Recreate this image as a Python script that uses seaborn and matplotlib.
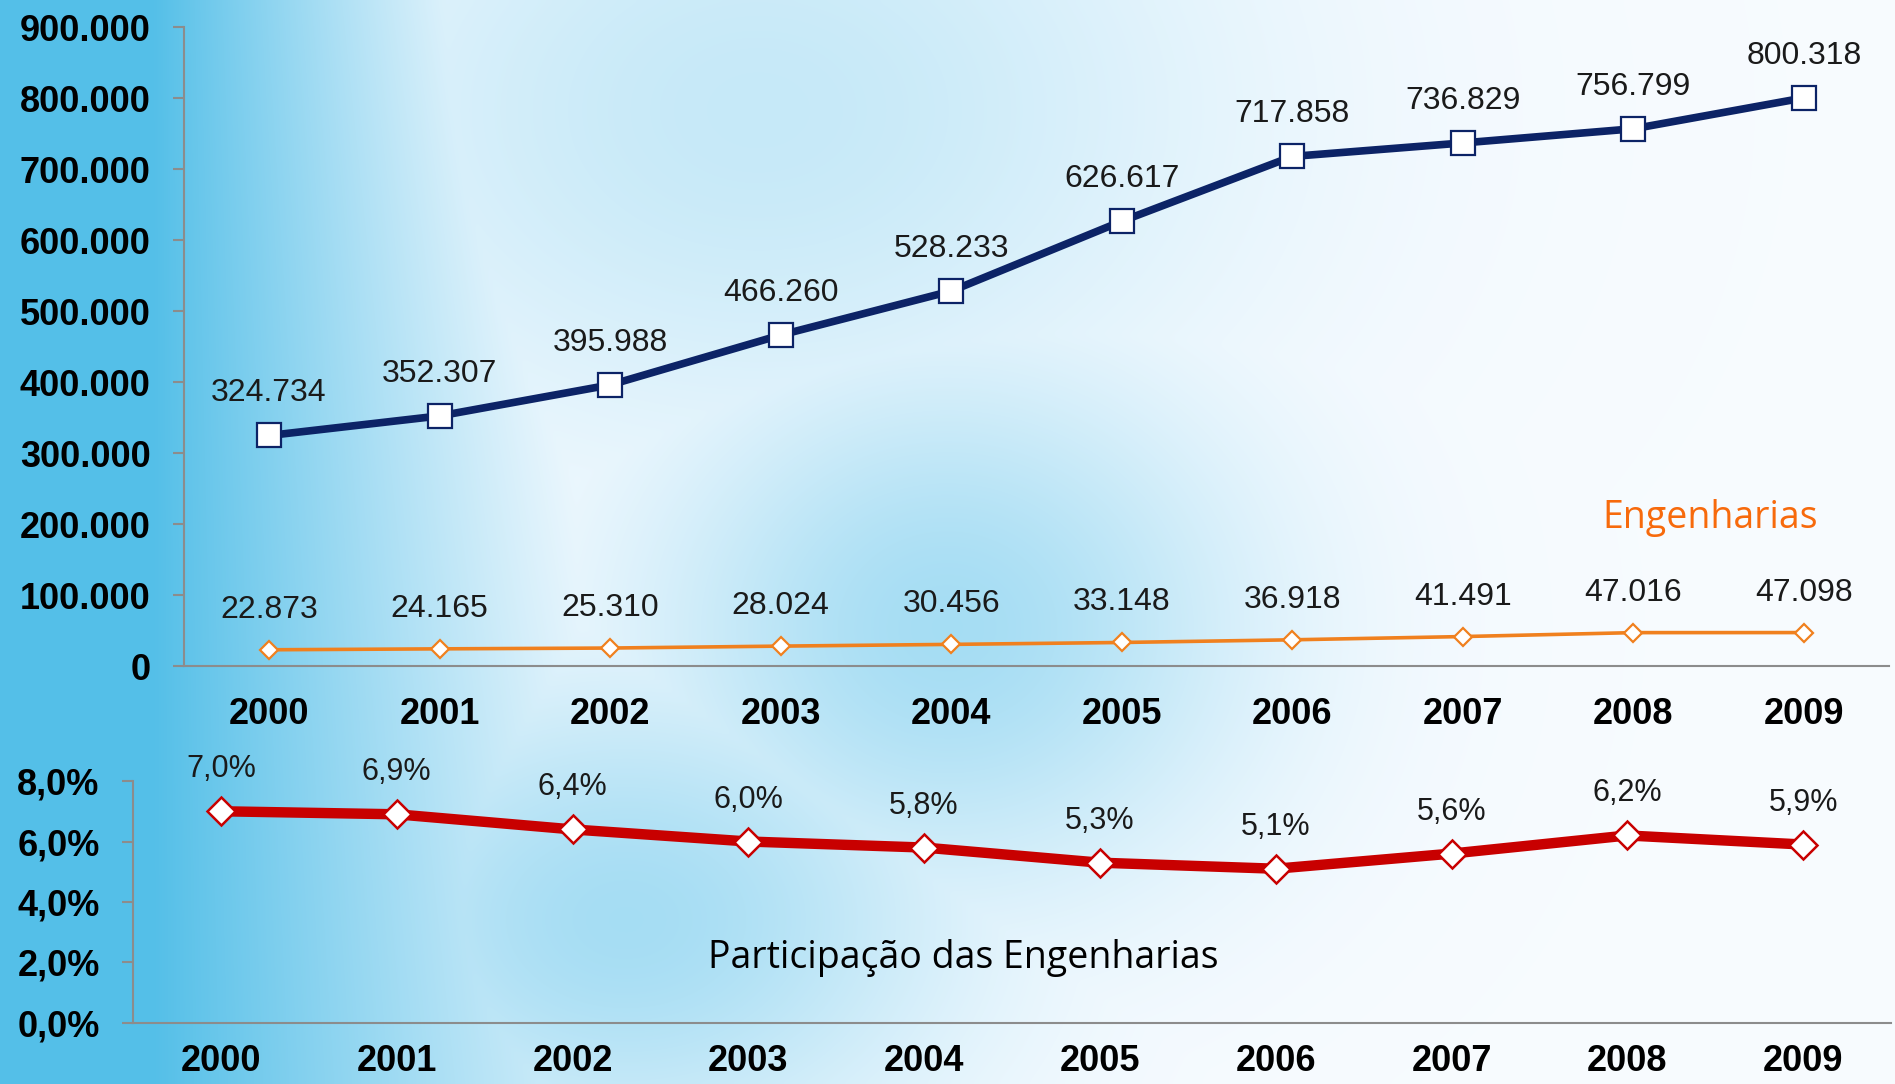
import numpy as np
import matplotlib
matplotlib.use("Agg")
import matplotlib.pyplot as plt
import seaborn as sns

anos = [2000, 2001, 2002, 2003, 2004, 2005, 2006, 2007, 2008, 2009]
total = [324734, 352307, 395988, 466260, 528233, 626617, 717858, 736829, 756799, 800318]
engenharias = [22873, 24165, 25310, 28024, 30456, 33148, 36918, 41491, 47016, 47098]
participacao = [7.0, 6.9, 6.4, 6.0, 5.8, 5.3, 5.1, 5.6, 6.2, 5.9]

ticks_topo = [0, 100000, 200000, 300000, 400000, 500000, 600000, 700000, 800000, 900000]
ticks_pct = [0, 2, 4, 6, 8]


def fmt_milhar(v):
    return f"{v:,}".replace(",", ".")


def fmt_pct(v):
    return f"{v:.1f}%".replace(".", ",")


sns.set_style("white")
plt.rcParams["font.family"] = ["Liberation Sans", "DejaVu Sans"]

fig = plt.figure(figsize=(18.95, 10.84), dpi=100)

# fundo em degrade azul -> branco
H, W = 220, 380
yy, xx = np.mgrid[0:1:H * 1j, 0:1:W * 1j]
borda = 0.20 + 0.12 * yy
w = np.clip(1 - (xx - 0.08) / borda, 0, 1) ** 1.2
w = np.maximum(w, 0.50 * np.exp(-((xx - 0.50) ** 2 / 0.025 + (yy - 0.58) ** 2 / 0.06)))
w = np.maximum(w, 0.50 * np.exp(-((xx - 0.33) ** 2 / 0.03 + (yy - 0.85) ** 2 / 0.05)))
w = np.maximum(w, 0.30 * np.exp(-((xx - 0.40) ** 2 / 0.06 + (yy - 0.10) ** 2 / 0.10)))
azul = np.array([0.33, 0.75, 0.91])
branco = np.array([0.97, 0.985, 1.0])
img = branco[None, None, :] * (1 - w[..., None]) + azul[None, None, :] * w[..., None]
bg = fig.add_axes([0, 0, 1, 1], zorder=-10)
bg.imshow(img, aspect="auto", extent=[0, 1, 0, 1], interpolation="bicubic")
bg.axis("off")

cinza = "#8c8c8c"
fonte_eixo = dict(fontsize=26, fontweight="bold", color="black")

# ---- grafico de cima
ax = fig.add_axes([0.097, 0.3856, 0.9, 0.5894])
ax.patch.set_alpha(0)
sns.lineplot(x=anos, y=total, ax=ax, color="#0c2366", linewidth=5.5,
             marker="s", markersize=17, markerfacecolor="white",
             markeredgecolor="#0c2366", markeredgewidth=1.6)
sns.lineplot(x=anos, y=engenharias, ax=ax, color="#f0801e", linewidth=2.6,
             marker="D", markersize=9, markerfacecolor="white",
             markeredgecolor="#f0801e", markeredgewidth=1.6)
for a, v in zip(anos, total):
    ax.annotate(fmt_milhar(v), (a, v), xytext=(0, 42), textcoords="offset pixels",
                ha="center", va="center", fontsize=23, color="#1a1a1a")
for a, v in zip(anos, engenharias):
    ax.annotate(fmt_milhar(v), (a, v), xytext=(0, 40), textcoords="offset pixels",
                ha="center", va="center", fontsize=23, color="#1a1a1a")
ax.set_xlim(1999.5, 2009.5)
ax.set_ylim(0, 900000)
ax.set_yticks(ticks_topo)
ax.set_yticklabels([fmt_milhar(t) for t in ticks_topo], **fonte_eixo)
ax.text(0.895, 0.232, "Engenharias", transform=ax.transAxes, ha="center", va="center",
        fontsize=27, color="#f76a0c", family=["Open Sans", "DejaVu Sans"])

# ---- grafico de baixo
ax2 = fig.add_axes([0.0702, 0.0563, 0.9277, 0.2232])
ax2.patch.set_alpha(0)
sns.lineplot(x=anos, y=participacao, ax=ax2, color="#c80000", linewidth=7.5,
             marker="D", markersize=14, markerfacecolor="white",
             markeredgecolor="#c80000", markeredgewidth=1.8)
for a, v in zip(anos, participacao):
    ax2.annotate(fmt_pct(v), (a, v), xytext=(0, 42), textcoords="offset pixels",
                 ha="center", va="center", fontsize=22, color="#1a1a1a")
ax2.set_xlim(1999.5, 2009.5)
ax2.set_ylim(0, 8)
ax2.set_yticks(ticks_pct)
ax2.set_yticklabels([fmt_pct(t) for t in ticks_pct], **fonte_eixo)
ax2.text(0.472, 0.27, "Participação das Engenharias", transform=ax2.transAxes,
         ha="center", va="center", fontsize=27, color="black",
         family=["Open Sans", "DejaVu Sans"])

for a, pad in ((ax, 22), (ax2, 15)):
    sns.despine(ax=a, top=True, right=True)
    for s in ("left", "bottom"):
        a.spines[s].set_color(cinza)
        a.spines[s].set_linewidth(1.5)
    a.set_xticks(anos)
    a.set_xticklabels([str(x) for x in anos], **fonte_eixo)
    a.set_xticks([x - 0.5 for x in anos] + [2009.5], minor=True)
    a.tick_params(axis="x", which="major", length=0, pad=pad)
    a.tick_params(axis="x", which="minor", length=8, width=1.5, color=cinza, direction="out")
    a.tick_params(axis="y", length=8, width=1.5, color=cinza, direction="out", pad=16, left=True)
    a.grid(False)
    a.set_xlabel("")
    a.set_ylabel("")

fig.savefig("out.png", dpi=100)
